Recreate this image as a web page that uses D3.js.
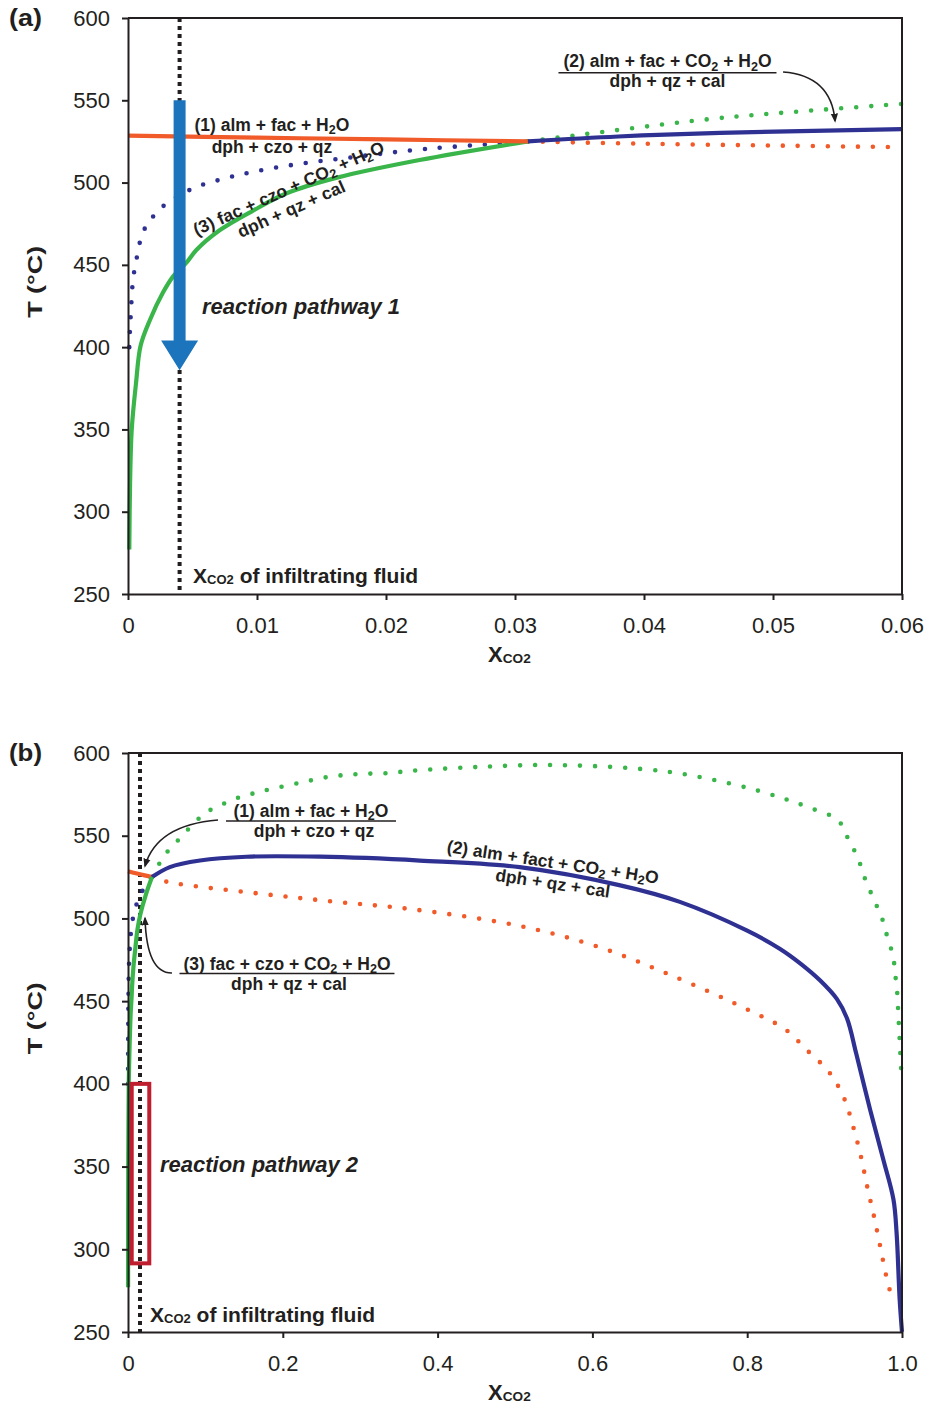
<!DOCTYPE html>
<html>
<head>
<meta charset="utf-8">
<script src="https://cdn.jsdelivr.net/npm/d3@7"></script>
<style>
body { margin: 0; background: #fff; }
svg text { font-family: "Liberation Sans", Arial, sans-serif; fill: #231f20; }
</style>
</head>
<body>
<svg id="chart" width="928" height="1411"></svg>
<script>
// ---- values: [X_CO2, T (°C)] ----
var tTicks = [250, 300, 350, 400, 450, 500, 550, 600];
var xTicksA = [0, 0.01, 0.02, 0.03, 0.04, 0.05, 0.06];
var xTicksB = [0, 0.2, 0.4, 0.6, 0.8, 1.0];

// (1) alm + fac + H2O = dph + czo + qz
var r1Stable = [[0,528.5],[0.01,527.3],[0.02,526.2],[0.031,525]];
var r1MetaA = [[0.031,525],[0.04,523.6],[0.05,522.5],[0.06,521.5]];
var r1MetaB = [[0.031,525],[0.052,522],[0.17,515],[0.27,510],[0.368,505.5],[0.5,496],[0.6,484],[0.7,466],
  [0.8,445],[0.849,433],[0.877,420.5],[0.906,407],[0.925,391.5],[0.937,374],[0.947,356],[0.955,338],
  [0.964,319.5],[0.972,301.4],[0.98,283],[0.985,274]];

// (2) alm + fac + CO2 + H2O = dph + qz + cal
var r2Meta = [[0.0001,400],[0.00016,412],[0.00024,423],[0.00032,435],[0.0005,447],[0.00075,457],[0.001,466],
  [0.0015,475],[0.0022,481.5],[0.0031,488],[0.0052,497],[0.0075,502.5],[0.01,507],[0.0134,511.5],
  [0.0175,515.5],[0.0225,520],[0.031,525]];
var r2StableA = [[0.031,525],[0.038,528],[0.0459,530.2],[0.06,532.5]];
var r2StableB = [[0.031,525],[0.054,531],[0.093,535],[0.153,537.3],[0.248,537.3],[0.377,535],[0.506,531],
  [0.636,520],[0.713,510],[0.8,492.6],[0.842,481.7],[0.868,473],[0.894,462.6],[0.916,451.2],[0.929,439.5],
  [0.941,418],[0.959,384],[0.976,354],[0.989,330],[0.993,310],[0.997,269.5],[1.0,250]];

// (3) fac + czo + CO2 + H2O = dph + qz + cal
var r3Stable = [[0.0001,277],[0.00016,317],[0.00029,350],[0.00062,378],[0.00098,401],[0.0017,416.5],
  [0.0027,433],[0.0035,443],[0.0046,452],[0.0053,459],[0.0071,471],[0.0097,483],[0.0123,493.5],
  [0.0162,503],[0.0226,513.7],[0.031,525]];
var r3MetaA = [[0.031,525],[0.033,527],[0.045,538.5],[0.052,543.2],[0.06,547.8]];
var r3MetaB = [[0.031,525],[0.041,533.5],[0.052,541],[0.065,547.4],[0.078,554],[0.093,561],[0.108,566],
  [0.127,570],[0.145,573.4],[0.164,575.8],[0.183,578],[0.222,582],[0.261,585.7],[0.3,587.3],[0.341,588],
  [0.36,589],[0.45,591.5],[0.558,592.7],[0.7,588.5],[0.8,579],[0.85,572],[0.88,567],[0.917,559.5],
  [0.93,548.6],[0.943,536.5],[0.953,523],[0.967,508],[0.975,499],[0.98,490.6],[0.986,481.5],[0.99,472.5],
  [0.992,463],[0.994,454],[0.995,444.6],[0.996,435.6],[0.997,426.6],[0.998,417],[0.999,408]];

var fluidXA = 0.004, fluidXB = 0.0155;
var pathway1 = [550, 404, 386];            // arrow top, head start, tip (°C)
var pathway2X = [0.0048, 0.0275], pathway2T = [291.5, 400];

var rxn1 = ["(1) alm + fac + H_2O", "dph + czo + qz"];
var rxn2A = ["(2) alm + fac + CO_2 + H_2O", "dph + qz + cal"];
var rxn2B = ["(2) alm + fact + CO_2 + H_2O", "dph + qz + cal"];
var rxn3 = ["(3) fac + czo + CO_2 + H_2O", "dph + qz + cal"];

// ---- drawing ----
var ink = "#231f20", orange = "#f15a29", navy = "#2e3192", green = "#39b54a";
var svg = d3.select("#chart");
var font = '"Liberation Sans", Arial, sans-serif';
var labelSize = 17.5;

svg.append("defs").append("marker")
  .attr("id", "head").attr("viewBox", "0 0 10 10").attr("refX", 8).attr("refY", 5)
  .attr("markerWidth", 9).attr("markerHeight", 9).attr("markerUnits", "userSpaceOnUse").attr("orient", "auto")
  .append("path").attr("d", "M0,1L10,5L0,9Z").attr("fill", ink);

// text with "_2" style subscripts
function rich(t, str, size) {
  str.split(/_(\d)/).forEach(function(s, i) {
    if (!s) return;
    var sp = t.append("tspan").text(s);
    if (i % 2) sp.attr("font-size", size * 0.72).attr("dy", size * 0.18);
    else if (i > 0) sp.attr("dy", -size * 0.18);
  });
}

function xco2(g, px, py, size, rest) {
  var t = g.append("text").attr("x", px).attr("y", py).attr("font-weight", "bold").attr("font-size", size);
  t.append("tspan").text("X");
  t.append("tspan").attr("font-size", size * 0.62).attr("dy", 1).text("CO2");
  if (rest) t.append("tspan").attr("dy", -1).text(rest);
}

function reactionLabel(g, lines, o) {
  var lg = g.append("g").attr("transform", "translate(" + o.x + "," + o.y + ") rotate(" + (o.rot || 0) + ")");
  rich(lg.append("text").attr("text-anchor", "middle").attr("font-weight", "bold").attr("font-size", labelSize),
    lines[0], labelSize);
  rich(lg.append("text").attr("text-anchor", "middle").attr("font-weight", "bold").attr("font-size", labelSize)
    .attr("x", o.dx2 || 0).attr("y", o.gap), lines[1], labelSize);
  if (o.rule) lg.append("line").attr("x1", -o.rule).attr("x2", o.rule).attr("y1", o.ruleY).attr("y2", o.ruleY)
    .attr("stroke", ink).attr("stroke-width", 1.5);
}

function drawPanel(p) {
  var x = d3.scaleLinear().domain(p.xDomain).range([128, 902]);
  var y = d3.scaleLinear().domain([250, 600]).range([p.bottom, p.top]);
  var line = d3.line().curve(d3.curveCatmullRom.alpha(0.5))
    .x(function(d) { return x(d[0]); }).y(function(d) { return y(d[1]); });
  var g = svg.append("g");

  // fluid composition line
  g.append("line").attr("x1", x(p.fluidX)).attr("x2", x(p.fluidX)).attr("y1", y(600)).attr("y2", y(250))
    .attr("stroke", ink).attr("stroke-width", 4).attr("stroke-dasharray", "4 4");

  p.series.forEach(function(s) {
    var path = g.append("path").attr("d", line(s.data)).attr("fill", "none").attr("stroke", s.color);
    if (s.dotted) path.attr("stroke-width", 4.6).attr("stroke-linecap", "round").attr("stroke-dasharray", "0 15");
    else path.attr("stroke-width", 4.2).attr("stroke-linejoin", "round");
  });

  if (p.arrow) {
    var ax = x(p.fluidX), a0 = y(p.arrow[0]), a1 = y(p.arrow[1]), a2 = y(p.arrow[2]);
    g.append("path").attr("fill", "#1c75bc")
      .attr("d", "M" + (ax - 6) + "," + a0 + "H" + (ax + 6) + "V" + a1 + "H" + (ax + 18.5) + "L" + ax + "," + a2 +
        "L" + (ax - 18.5) + "," + a1 + "H" + (ax - 6) + "Z");
  }
  if (p.box) {
    g.append("rect").attr("x", x(p.box.x[0])).attr("y", y(p.box.t[1]))
      .attr("width", x(p.box.x[1]) - x(p.box.x[0])).attr("height", y(p.box.t[0]) - y(p.box.t[1]))
      .attr("fill", "none").attr("stroke", "#be1e2d").attr("stroke-width", 4);
  }

  // frame + axes
  g.append("path").attr("d", "M" + x.range()[0] + "," + y(600) + "H" + x.range()[1] + "V" + y(250))
    .attr("fill", "none").attr("stroke", ink).attr("stroke-width", 2);
  var xa = g.append("g").attr("transform", "translate(0," + y(250) + ")")
    .call(d3.axisBottom(x).tickValues(p.xTicks).tickFormat(p.xFormat).tickSize(6).tickSizeOuter(0).tickPadding(17));
  var ya = g.append("g").attr("transform", "translate(" + x.range()[0] + ",0)")
    .call(d3.axisLeft(y).tickValues(tTicks).tickSize(6).tickSizeOuter(0).tickPadding(12));
  [xa, ya].forEach(function(a) {
    a.attr("font-family", font).attr("font-size", 22);
    a.selectAll(".domain, line").attr("stroke", ink).attr("stroke-width", 2);
    a.selectAll("text").attr("fill", ink);
  });

  // annotations
  p.labels.forEach(function(l) {
    reactionLabel(g, l.lines, {x: x(l.at[0]), y: y(l.at[1]), rot: l.rot, gap: l.gap, dx2: l.dx2, rule: l.rule, ruleY: l.ruleY});
  });
  p.pointers.forEach(function(c) {
    g.append("path").attr("fill", "none").attr("stroke", ink).attr("stroke-width", 1.6).attr("marker-end", "url(#head)")
      .attr("d", "M" + x(c[0][0]) + "," + y(c[0][1]) + "Q" + x(c[1][0]) + "," + y(c[1][1]) + " " + x(c[2][0]) + "," + y(c[2][1]));
  });
  g.append("text").attr("x", x(p.pathway.at[0])).attr("y", y(p.pathway.at[1]))
    .attr("font-weight", "bold").attr("font-style", "italic").attr("font-size", 22).text(p.pathway.text);
  xco2(g, x(p.fluidLabel[0]), y(p.fluidLabel[1]), 21, " of infiltrating fluid");

  // titles
  g.append("text").attr("x", 9).attr("y", p.top + 8).attr("font-weight", "bold").attr("font-size", 23)
    .attr("textLength", 33).attr("lengthAdjust", "spacingAndGlyphs").text(p.tag);
  g.append("text").attr("transform", "translate(42," + (p.top + 0.458 * (p.bottom - p.top)) + ") rotate(-90)")
    .attr("text-anchor", "middle").attr("font-weight", "bold").attr("font-size", 19.5)
    .attr("textLength", 72).attr("lengthAdjust", "spacingAndGlyphs").text("T (°C)");
  xco2(g, 488, p.bottom + 68, 22);
}

drawPanel({
  tag: "(a)", top: 18, bottom: 594, xDomain: [0, 0.06], xTicks: xTicksA,
  xFormat: function(d) { return d === 0 ? "0" : d3.format(".2f")(d); },
  fluidX: fluidXA, arrow: pathway1,
  series: [
    {data: r1MetaA, color: orange, dotted: true},
    {data: r2Meta, color: navy, dotted: true},
    {data: r3MetaA, color: green, dotted: true},
    {data: r3Stable, color: green},
    {data: r1Stable, color: orange},
    {data: r2StableA, color: navy}
  ],
  labels: [
    {lines: rxn1, at: [0.01116, 531.3], gap: 21.5},
    {lines: rxn3, at: [0.01264, 493.2], rot: -24, gap: 20, dx2: -6},
    {lines: rxn2A, at: [0.04182, 570], gap: 19.5, rule: 109, ruleY: 5.5}
  ],
  pointers: [[[0.05078, 567.2], [0.0545, 565], [0.05481, 537.5]]],
  pathway: {text: "reaction pathway 1", at: [0.00574, 420.1]},
  fluidLabel: [0.00504, 256.7]
});

drawPanel({
  tag: "(b)", top: 753, bottom: 1332, xDomain: [0, 1], xTicks: xTicksB,
  xFormat: function(d) { return d === 0 ? "0" : d3.format(".1f")(d); },
  fluidX: fluidXB, box: {x: pathway2X, t: pathway2T},
  series: [
    {data: r1MetaB, color: orange, dotted: true},
    {data: r2Meta, color: navy, dotted: true},
    {data: r3MetaB, color: green, dotted: true},
    {data: r1Stable, color: orange},
    {data: r2StableB, color: navy},
    {data: r3Stable, color: green}
  ],
  labels: [
    {lines: rxn1, at: [0.2364, 561.3], gap: 20, dx2: 3, rule: 85, ruleY: 4},
    {lines: rxn3, at: [0.2054, 468.8], gap: 20, dx2: 2, rule: 107.5, ruleY: 3.5},
    {lines: rxn2B, at: [0.5478, 530.5], rot: 8.5, gap: 21, dx2: 3}
  ],
  pointers: [
    [[0.1163, 559.5], [0.037, 556.5], [0.022, 531.7]],
    [[0.0568, 467], [0.0241, 466.8], [0.022, 500.1]]
  ],
  pathway: {text: "reaction pathway 2", at: [0.0413, 346.7]},
  fluidLabel: [0.0284, 256]
});
</script>
</body>
</html>
